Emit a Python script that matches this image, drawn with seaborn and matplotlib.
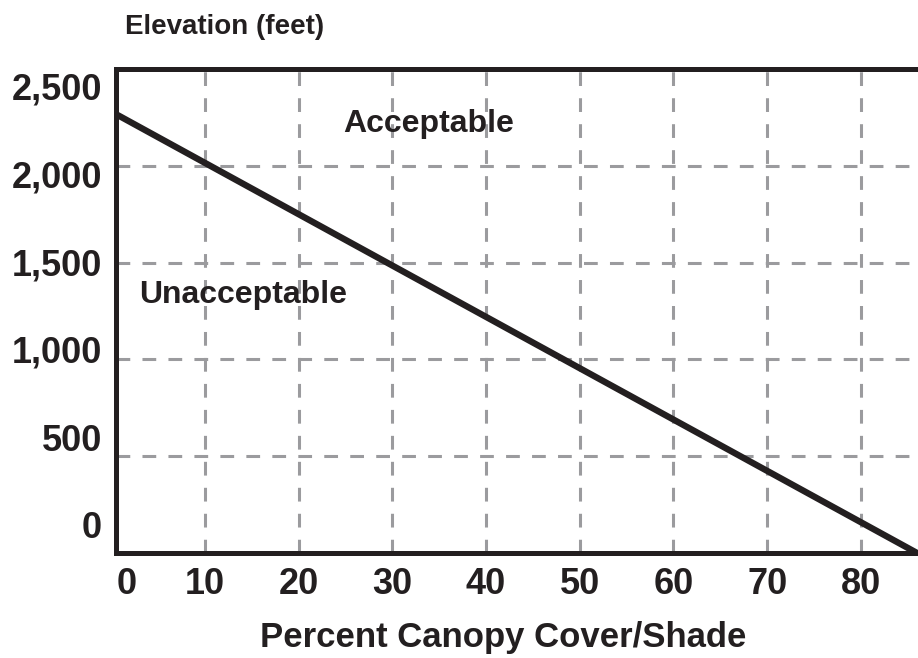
import matplotlib
matplotlib.use("Agg")
import matplotlib.pyplot as plt
import seaborn as sns
import pandas as pd

# sınır çizgisi: kanopi örtüsü (%) ve yükseklik (feet)
canopy = [0, 86]
elevation = [2280, 0]

x_grid = [10, 20, 30, 40, 50, 60, 70, 80]
x_labels = ["10", "20", "30", "40", "50", "60", "70", "80"]
y_grid = [0, 500, 1000, 1500, 2000, 2500]
# etiketler çizgilerle tam hizalı değil, orijinaldeki yerleri
y_label_pos = [145, 599, 1054, 1503, 1958, 2412]
y_labels = ["0", "500", "1,000", "1,500", "2,000", "2,500"]

ink = "#231f20"
grid_col = "#9b9b9e"

sns.set_style("white")
plt.rcParams["font.family"] = ["Liberation Sans", "DejaVu Sans"]
plt.rcParams["font.weight"] = "bold"

df = pd.DataFrame({"Canopy": canopy, "Elevation": elevation})

fig = plt.figure(figsize=(9.18, 6.58), dpi=100)
ax = fig.add_axes([116 / 918, 1 - 553 / 658, (918 - 116) / 918, (553 - 69) / 658])

sns.lineplot(data=df, x="Canopy", y="Elevation", color=ink, linewidth=4.6, ax=ax,
             solid_capstyle="butt", zorder=3)

ax.set_xlim(0.5, 86.1)
ax.set_ylim(0, 2500)

# ızgara majör tiklerde, yazılar minör tiklerde
ax.set_xticks(x_grid)
ax.set_xticklabels(x_labels)
ax.set_xticks([1.6], ["0"], minor=True)
ax.set_yticks(y_grid)
ax.set_yticklabels([""] * len(y_grid))
ax.set_yticks(y_label_pos, y_labels, minor=True)

ax.grid(True, which="major", color=grid_col, linewidth=2.2, linestyle=(0, (4.5, 4)))
ax.tick_params(which="both", length=0, labelsize=26, colors=ink)
ax.tick_params(axis="x", which="both", pad=10)
ax.tick_params(axis="y", which="both", pad=10)
for lab in ax.get_xticklabels(which="both") + ax.get_yticklabels(which="both"):
    lab.set_fontweight("bold")

for side in ["left", "bottom", "top"]:
    ax.spines[side].set_color(ink)
    ax.spines[side].set_linewidth(3.6)
ax.spines["right"].set_visible(False)

ax.set_xlabel("Percent Canopy Cover/Shade", fontsize=25, fontweight="bold", color=ink, labelpad=14)
ax.xaxis.label.set_x(0.483)
ax.set_ylabel("")

fig.text(125 / 918, 1 - 27 / 658, "Elevation (feet)", fontsize=20, fontweight="bold",
         color=ink, ha="left", va="center")

ax.text(33.9, 2215, "Acceptable", fontsize=23, fontweight="bold", color=ink,
        ha="center", va="center")
ax.text(14.1, 1335, "Unacceptable", fontsize=23, fontweight="bold", color=ink,
        ha="center", va="center")

fig.savefig("out.png", dpi=100)
